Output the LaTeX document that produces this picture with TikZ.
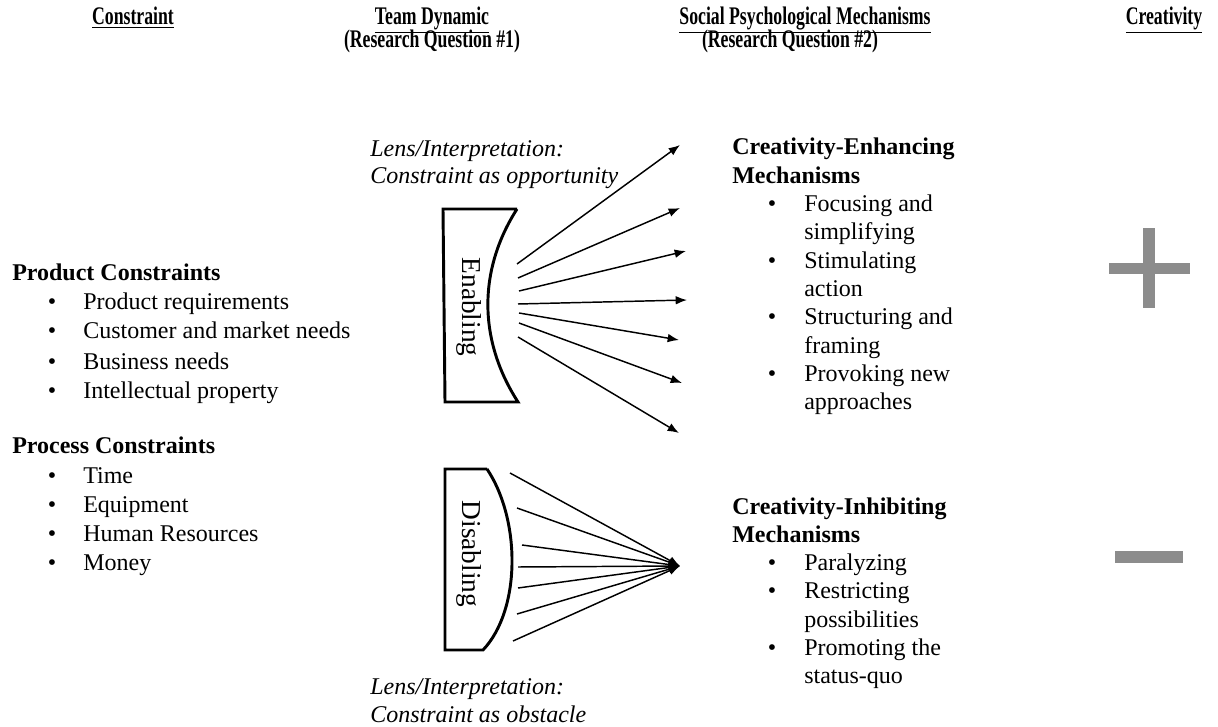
\documentclass[tikz,border=0pt]{standalone}
\usepackage{fontspec}
\setmainfont{Liberation Serif}
\newfontfamily\headfont[FakeStretch=0.7]{Liberation Serif}
\usetikzlibrary{arrows.meta}
\definecolor{signgray}{HTML}{8C8C8C}
\newcommand\bodysize{\fontsize{18}{21.3}\selectfont}

\begin{document}
\begin{tikzpicture}[x=0.75pt, y=-0.75pt, font=\bodysize,
  txt/.style={anchor=base west, inner sep=0},
  bold/.style={txt, font=\bodysize\bfseries},
  lenstxt/.style={txt, font=\bodysize\itshape},
  bul/.style={anchor=base, inner sep=0},
  head/.style={anchor=base, inner sep=0, font=\fontsize{19}{22}\headfont\bfseries},
  lenslabel/.style={rotate=-90, inner sep=0, font=\fontsize{20.5}{24}\selectfont},
  lens/.style={line width=2.2pt},
  arr/.style={line width=1.1pt, -{Latex[length=8.5pt,width=6.5pt]}}]
\useasboundingbox (0,0) rectangle (1218,727);

% column heads
\node[head] (hcon) at (133,25) {\underline{Constraint}};
\node[head] (hteam) at (432,25) {\underline{Team Dynamic}};
\node[head] (hrq1) at (432,48) {(Research Question \#1)};
\node[head] (hsoc) at (805,25) {\underline{Social Psychological Mechanisms}};
\node[head] (hrq2) at (790,48) {(Research Question \#2)};
\node[head] (hcre) at (1164,25) {\underline{Creativity}};

% constraints
\node[bold] (prod) at (12,281) {Product Constraints};
\foreach \t/\y [count=\i] in {Product requirements/310, Customer and market needs/339,
    Business needs/369, Intellectual property/398} {
  \node[bul] (pb\i) at (52,\y) {\textbullet};
  \node[txt] (pi\i) at (83,\y) {\t};
}
\node[bold] (proc) at (12,453) {Process Constraints};
\foreach \t/\y [count=\i] in {Time/483, Equipment/512, Human Resources/541, Money/570} {
  \node[bul] (qb\i) at (52,\y) {\textbullet};
  \node[txt] (qi\i) at (83,\y) {\t};
}

% lenses
\draw[lens] (517,209) -- (443,209) -- (445,402) -- (518,402)
  .. controls (478,340) and (478,270) .. (517,209);
\node[lenslabel] (enab) at (469,307) {Enabling};
\draw[lens] (487,469) -- (445,469) -- (445,650) -- (483,650)
  .. controls (521,610) and (521,520) .. (487,469);
\node[lenslabel] (disab) at (469,554) {Disabling};

\node[lenstxt] (lt1) at (370,157) {Lens/Interpretation:};
\node[lenstxt] (lt2) at (370,184) {Constraint as opportunity};
\node[lenstxt] (lb1) at (370,694) {Lens/Interpretation:};
\node[lenstxt] (lb2) at (370,722) {Constraint as obstacle};

% fanning out
\foreach \sx/\sy/\ex/\ey [count=\i] in {517/264/680/145, 518/278/680/208, 519/291/686/251,
    518/304/687/300, 519/313/679/340, 519/323/682/383, 518/337/679/433} {
  \coordinate (es\i) at (\sx,\sy);
  \coordinate (ee\i) at (\ex,\ey);
  \draw[arr] (es\i) -- (ee\i);
}

% narrowing in
\coordinate (dend) at (680,566);
\foreach \sx/\sy [count=\i] in {510/473, 517/508, 522/545, 518/567, 518/588, 517/614, 513/641} {
  \coordinate (ds\i) at (\sx,\sy);
  \draw[arr] (ds\i) -- (dend);
}

% mechanisms
\node[bold] (enh1) at (732,155) {Creativity-Enhancing};
\node[bold] (enh2) at (732,183.3) {Mechanisms};
\foreach \t/\b [count=\i] in {Focusing and/1, simplifying/0, Stimulating/1, action/0,
    Structuring and/1, framing/0, Provoking new/1, approaches/0} {
  \pgfmathsetmacro\y{211.6+(\i-1)*28.3}
  \node[txt] (ei\i) at (804,\y) {\t};
  \ifnum\b=1 \node[bul] (eb\i) at (772,\y) {\textbullet}; \fi
}
\node[bold] (inh1) at (732,514) {Creativity-Inhibiting};
\node[bold] (inh2) at (732,542.3) {Mechanisms};
\foreach \t/\b [count=\i] in {Paralyzing/1, Restricting/1, possibilities/0,
    Promoting the/1, status-quo/0} {
  \pgfmathsetmacro\y{570.6+(\i-1)*28.3}
  \node[txt] (ii\i) at (804,\y) {\t};
  \ifnum\b=1 \node[bul] (ib\i) at (772,\y) {\textbullet}; \fi
}

% plus and minus
\fill[signgray] (1143,228) rectangle (1155,308);
\fill[signgray] (1109,263) rectangle (1190,274);
\fill[signgray] (1115,551) rectangle (1183,563);

\end{tikzpicture}
\end{document}
